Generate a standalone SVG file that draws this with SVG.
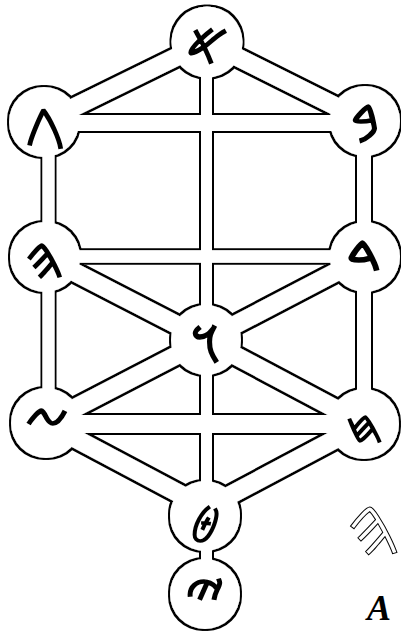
<svg xmlns="http://www.w3.org/2000/svg" width="401" height="632" viewBox="0 0 401 632">
<style>
.t{fill:none;stroke:#fff;stroke-linecap:butt}
.d{stroke-width:18}
.c{fill:#fff}
.g{font-family:"DejaVu Sans","Noto Sans",sans-serif;font-size:58px;fill:#000;stroke:#000;stroke-width:1.6;text-anchor:middle;dominant-baseline:central}
.cap{font-family:"Liberation Serif",serif;font-weight:bold;font-style:italic;font-size:36px;fill:#000}
</style>
<defs>
<filter id="ol" filterUnits="userSpaceOnUse" x="-10" y="-10" width="421" height="652">
<feMorphology in="SourceAlpha" operator="dilate" radius="2" result="d"/>
<feFlood flood-color="#000"/>
<feComposite in2="d" operator="in" result="b"/>
<feMerge><feMergeNode in="b"/><feMergeNode in="SourceGraphic"/></feMerge>
</filter>
</defs>
<rect width="401" height="632" fill="#fff"/>
<g filter="url(#ol)">
<g id="connectors">
<path class="t" stroke-width="11" d="M206.5 42V594"/>
<path class="t" stroke-width="12" d="M48.5 122V423"/>
<path class="t" stroke-width="14" d="M364 121V424"/>
<path class="t" stroke-width="16" d="M44 123H365"/>
<path class="t" stroke-width="12.5" d="M45 256.5H365"/>
<path class="t" stroke-width="18" d="M46 424H364"/>
<path class="t d" d="M207 42L44 122"/>
<path class="t d" d="M207 42L365 121"/>
<path class="t d" d="M45 257L206 340"/>
<path class="t d" d="M365 257L206 340"/>
<path class="t d" d="M206 340L46 423"/>
<path class="t d" d="M206 340L364 424"/>
<path class="t d" d="M46 423L206 508"/>
<path class="t d" d="M364 424L206 508"/>
</g>
<g id="n-aleph"><circle class="c" cx="207" cy="42" r="35.5"/><text class="g" x="207" y="44">𐤀</text></g>
<g id="n-gimel"><circle class="c" cx="44" cy="122" r="35"/><text class="g" x="45" y="124">𐤂</text></g>
<g id="n-beth"><circle class="c" cx="365" cy="121" r="35"/><text class="g" x="365" y="121" style="font-size:64px">𐤁</text></g>
<g id="n-he"><circle class="c" cx="45" cy="257" r="35"/><text class="g" x="44" y="258">𐤄</text></g>
<g id="n-daleth"><circle class="c" cx="365" cy="257" r="35"/><text class="g" x="364" y="259" style="font-size:76px">𐤃</text></g>
<g id="n-waw"><circle class="c" cx="206" cy="340" r="35"/><text class="g" x="205" y="342" style="font-size:64px">𐤅</text></g>
<g id="n-zayin"><circle class="c" cx="46" cy="423" r="35"/><text class="g" x="47" y="425" style="font-size:64px">𐤆</text></g>
<g id="n-heth"><circle class="c" cx="364" cy="424" r="35"/><text class="g" x="364" y="426" style="font-size:44px">𐤇</text></g>
<g id="n-teth"><circle class="c" cx="205" cy="516" r="35"/><text class="g" x="205" y="517" style="font-size:44px">𐤈</text></g>
<g id="n-yodh"><circle class="c" cx="205" cy="594" r="35"/><text class="g" x="205" y="595" style="font-size:62px">𐤉</text></g>
</g>
<text x="373" y="526" style="font-family:'DejaVu Sans',sans-serif;font-size:82px;fill:#fff;stroke:#000;stroke-width:1;text-anchor:middle;dominant-baseline:central">𐤄</text>
<text class="cap" x="367" y="620">A</text>
</svg>
